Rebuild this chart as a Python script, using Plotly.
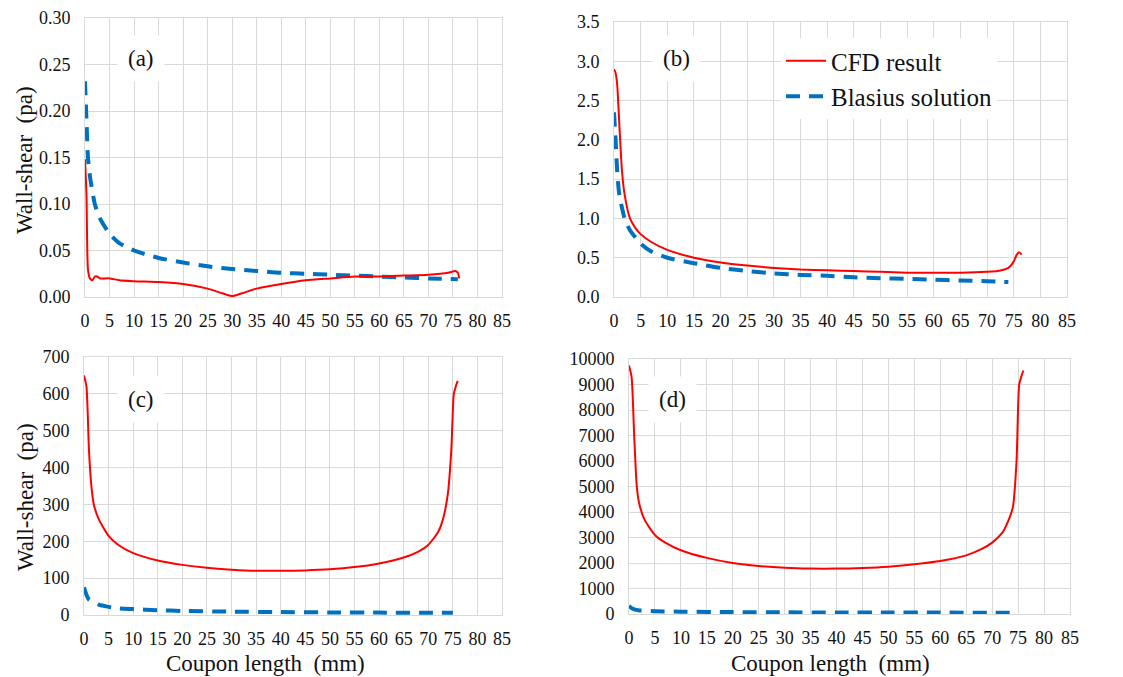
import plotly.graph_objects as go

# ---- data ----
a_cfd_x = [0, 0.3, 0.6, 1, 1.5, 2, 2.5, 3, 5, 7, 10, 15, 20, 25, 28, 30, 32, 35, 40, 45, 50, 55, 60, 65, 70, 74, 75.5, 76, 76.3]
a_cfd_y = [0.148, 0.11, 0.03, 0.020, 0.018, 0.022, 0.022, 0.020, 0.020, 0.018, 0.017, 0.016, 0.014, 0.009, 0.004, 0.001, 0.004, 0.009, 0.014, 0.018, 0.020, 0.022, 0.022, 0.023, 0.024, 0.026, 0.028, 0.026, 0.020]
a_bla_x = [0, 0.3, 0.6, 1, 2, 3, 5, 7, 10, 15, 20, 25, 30, 35, 40, 45, 50, 55, 60, 65, 70, 76]
a_bla_y = [0.232, 0.19, 0.15, 0.13, 0.10, 0.085, 0.068, 0.058, 0.050, 0.042, 0.037, 0.033, 0.030, 0.028, 0.026, 0.025, 0.024, 0.023, 0.022, 0.021, 0.020, 0.019]

b_cfd_x = [0, 0.3, 0.6, 1, 1.5, 2, 3, 4, 5, 7, 10, 15, 20, 25, 30, 35, 40, 45, 50, 55, 60, 65, 70, 72, 74, 75, 75.5, 76, 76.5]
b_cfd_y = [2.9, 2.85, 2.7, 2.2, 1.6, 1.3, 1.0, 0.88, 0.8, 0.7, 0.6, 0.5, 0.44, 0.40, 0.37, 0.35, 0.34, 0.33, 0.32, 0.31, 0.31, 0.31, 0.32, 0.33, 0.37, 0.45, 0.53, 0.57, 0.54]
b_bla_x = [0, 0.3, 0.6, 1, 2, 3, 5, 7, 10, 15, 20, 25, 30, 35, 40, 45, 50, 55, 60, 65, 70, 74]
b_bla_y = [2.35, 2.0, 1.6, 1.3, 1.0, 0.85, 0.68, 0.58, 0.50, 0.43, 0.37, 0.33, 0.30, 0.28, 0.27, 0.25, 0.24, 0.23, 0.22, 0.21, 0.20, 0.19]

c_cfd_x = [0, 0.5, 1, 1.5, 2, 3, 5, 7, 10, 15, 20, 25, 30, 35, 40, 45, 50, 55, 60, 65, 68, 70, 72, 73, 74, 74.7, 75.2, 75.6, 76]
c_cfd_y = [650, 620, 450, 350, 300, 260, 215, 190, 168, 148, 136, 128, 123, 120, 120, 121, 124, 130, 140, 156, 172, 190, 225, 260, 330, 450, 600, 620, 635]
c_bla_x = [0, 0.5, 1, 3, 5, 7, 10, 15, 20, 30, 40, 50, 60, 70, 75]
c_bla_y = [75, 55, 42, 28, 22, 18, 16, 13, 11, 9, 8, 7, 6.5, 6, 6]

d_cfd_x = [0, 0.5, 1, 1.5, 2, 3, 5, 7, 10, 15, 20, 25, 30, 35, 40, 45, 50, 55, 60, 65, 68, 70, 72, 73, 74, 74.7, 75.2, 75.6, 76]
d_cfd_y = [9750, 9300, 7000, 5000, 4300, 3700, 3100, 2800, 2500, 2200, 2000, 1880, 1810, 1780, 1780, 1800, 1850, 1950, 2080, 2300, 2550, 2800, 3200, 3600, 4200, 6000, 9000, 9300, 9550]
d_bla_x = [0, 0.5, 1, 2, 5, 10, 20, 30, 40, 50, 60, 70, 75]
d_bla_y = [320, 230, 180, 140, 110, 90, 75, 65, 60, 57, 55, 52, 50]

panel_labels = ["(a)", "(b)", "(c)", "(d)"]
series_names = ["CFD result", "Blasius solution"]
y_ranges = [[0, 0.3], [0, 3.5], [0, 700], [0, 10000]]
y_dticks = [0.05, 0.5, 100, 1000]
y_formats = [".2f", ".1f", "d", "d"]

W, H = 1123, 677
OFF = 8  # page body margin seen in the screenshot
FONT = "Liberation Serif, serif"
TXT = "#111111"
RED = "#ff0000"
BLUE = "#0070c0"
GRID = "#d9d9d9"

def px_x(p):
    return (p - OFF) / W

def px_y(p):
    return 1 - (p - OFF) / H

# plot areas in screenshot pixels: (left, right, top, bottom)
areas = [(85, 502, 18, 297), (614, 1067, 22, 297), (84, 502, 357, 615), (629, 1070, 359, 614)]

fig = go.Figure()
data = [
    (a_cfd_x, a_cfd_y, a_bla_x, a_bla_y),
    (b_cfd_x, b_cfd_y, b_bla_x, b_bla_y),
    (c_cfd_x, c_cfd_y, c_bla_x, c_bla_y),
    (d_cfd_x, d_cfd_y, d_bla_x, d_bla_y),
]
for i, (cx, cy, bx, by) in enumerate(data):
    sfx = "" if i == 0 else str(i + 1)
    fig.add_trace(go.Scatter(x=bx, y=by, mode="lines", name=series_names[1],
                             line=dict(color=BLUE, width=4, dash="14px,9px", shape="spline", smoothing=0.6),
                             xaxis="x" + sfx, yaxis="y" + sfx, showlegend=(i == 1), legendrank=2))
    fig.add_trace(go.Scatter(x=cx, y=cy, mode="lines", name=series_names[0],
                             line=dict(color=RED, width=2, shape="spline", smoothing=0.6),
                             xaxis="x" + sfx, yaxis="y" + sfx, showlegend=(i == 1), legendrank=1))

layout = {}
for i, (l, r, t, b) in enumerate(areas):
    sfx = "" if i == 0 else str(i + 1)
    layout["xaxis" + sfx] = dict(
        domain=[px_x(l), px_x(r)], range=[0, 85], dtick=5, tick0=0,
        showgrid=True, gridcolor=GRID, gridwidth=1, zeroline=False,
        showline=True, linecolor=GRID, mirror=True, ticks="", automargin=False,
        ticklabelstandoff=7,
        anchor="y" + sfx, tickfont=dict(family=FONT, size=18, color=TXT),
    )
    layout["yaxis" + sfx] = dict(
        domain=[px_y(b), px_y(t)], range=y_ranges[i], dtick=y_dticks[i], tick0=0,
        tickformat=y_formats[i],
        showgrid=True, gridcolor=GRID, gridwidth=1, zeroline=False,
        showline=True, linecolor=GRID, mirror=True, ticks="", automargin=False,
        ticklabelstandoff=10,
        anchor="x" + sfx, tickfont=dict(family=FONT, size=18, color=TXT),
    )

annotations = []
label_pos = [(141, 58), (676, 59), (141, 399), (672, 399)]
for lab, (lx, ly) in zip(panel_labels, label_pos):
    annotations.append(dict(text=lab, x=px_x(lx), y=px_y(ly), xref="paper", yref="paper",
                            xanchor="center", yanchor="middle",
                            showarrow=False, font=dict(family=FONT, size=23, color=TXT),
                            bgcolor="white", borderpad=10))
for yc in [160, 497]:
    annotations.append(dict(text="Wall-shear  (pa)", x=px_x(25), y=px_y(yc), xref="paper", yref="paper",
                            xanchor="center", yanchor="middle",
                            showarrow=False, textangle=-90,
                            font=dict(family=FONT, size=23, color=TXT)))
for xc in [265, 830]:
    annotations.append(dict(text="Coupon length  (mm)", x=px_x(xc), y=px_y(663), xref="paper", yref="paper",
                            xanchor="center", yanchor="middle",
                            showarrow=False, font=dict(family=FONT, size=23, color=TXT)))

fig.update_layout(
    template="none",
    width=W, height=H,
    margin=dict(l=0, r=0, t=0, b=0, autoexpand=False),
    paper_bgcolor="white", plot_bgcolor="white",
    font=dict(family=FONT, size=18, color=TXT),
    annotations=annotations,
    legend=dict(x=px_x(781), y=px_y(38), xanchor="left", yanchor="top",
                bgcolor="white", font=dict(family=FONT, size=25, color=TXT),
                traceorder="normal", itemwidth=40, tracegroupgap=0),
    showlegend=True,
    **layout,
)

fig.write_html("out.html")
